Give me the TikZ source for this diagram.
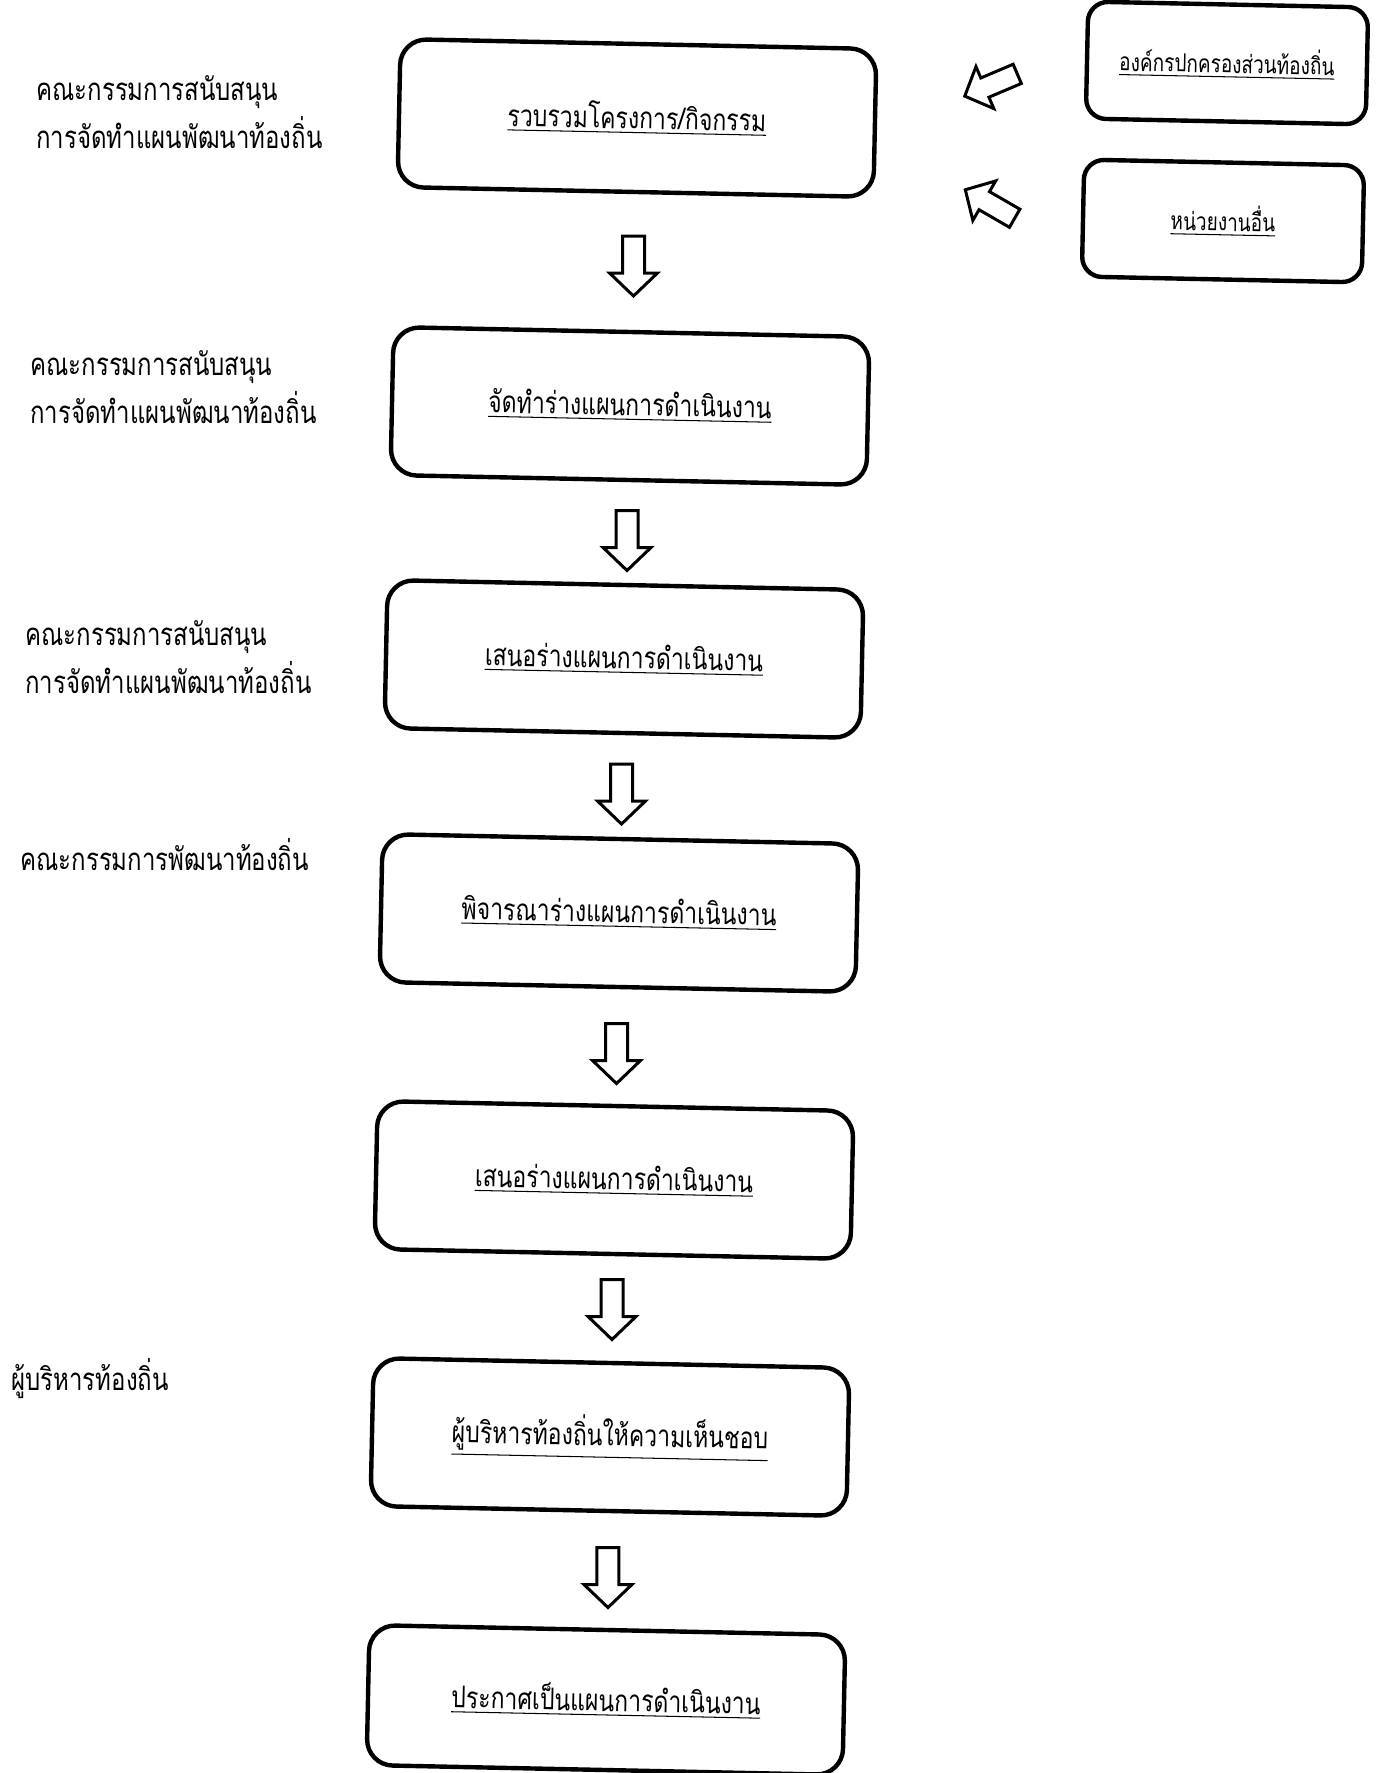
\documentclass[tikz,border=0pt]{standalone}
\usepackage{fontspec}
\usepackage{graphicx}
\newfontfamily\thaifont[Script=Thai]{Loma}
\usetikzlibrary{calc}
\newcommand\tall[1]{\scalebox{1}[1.3]{#1}}
\newcommand\ulthai[1]{\tall{\underline{#1}}}
\begin{document}
\begin{tikzpicture}[x=0.5pt,y=-0.5pt,
  box/.style={draw, line width=2.2pt, rounded corners=13pt, rotate=-1.2, minimum width=238pt, minimum height=74pt, inner sep=0pt, font=\thaifont\fontsize{11.5}{14}\selectfont},
  sidebox/.style={draw, line width=2.2pt, rounded corners=10pt, rotate=-1.2, minimum width=140pt, minimum height=58.5pt, inner sep=0pt, font=\thaifont\fontsize{9.5}{12}\selectfont},
  lab/.style={anchor=west, align=left, inner sep=0pt, font=\thaifont\fontsize{12}{24}\selectfont},
  arrowline/.style={draw, line width=1.5pt, fill=white, line join=miter},
  pics/hollowarrow/.style={code={\draw[arrowline] (-11,-30) -- (-11,7) -- (-24,7) -- (0,30) -- (24,7) -- (11,7) -- (11,-30) -- cycle;}}
]
\useasboundingbox (0,0) rectangle (1377,1773);
\fill[white] (0,0) rectangle (1377,1773);

% main boxes
\node[box] (b1) at (637,118) {\ulthai{รวบรวมโครงการ/กิจกรรม}};
\node[box] (b2) at (630,406) {\ulthai{จัดทำร่างแผนการดำเนินงาน}};
\node[box] (b3) at (624,659) {\ulthai{เสนอร่างแผนการดำเนินงาน}};
\node[box] (b4) at (619,913) {\ulthai{พิจารณาร่างแผนการดำเนินงาน}};
\node[box] (b5) at (614,1180) {\ulthai{เสนอร่างแผนการดำเนินงาน}};
\node[box] (b6) at (610,1437) {\ulthai{ผู้บริหารท้องถิ่นให้ความเห็นชอบ}};
\node[box, minimum height=70pt] (b7) at (606,1700) {\ulthai{ประกาศเป็นแผนการดำเนินงาน}};

% side boxes
\node[sidebox] (sa) at (1227,63) {\ulthai{องค์กรปกครองส่วนท้องถิ่น}};
\node[sidebox] (sb) at (1223,221) {\ulthai{หน่วยงานอื่น}};

% left labels
\node[lab] (l1) at (36,112) {\tall{คณะกรรมการสนับสนุน}\\\tall{การจัดทำแผนพัฒนาท้องถิ่น}};
\node[lab] (l2) at (30,387) {\tall{คณะกรรมการสนับสนุน}\\\tall{การจัดทำแผนพัฒนาท้องถิ่น}};
\node[lab] (l3) at (25,657) {\tall{คณะกรรมการสนับสนุน}\\\tall{การจัดทำแผนพัฒนาท้องถิ่น}};
\node[lab] (l4) at (20,855) {\tall{คณะกรรมการพัฒนาท้องถิ่น}};
\node[lab] (l5) at (11,1379) {\tall{ผู้บริหารท้องถิ่น}};

% block arrows between boxes
\pic at ($(b1.south)!0.5!(b2.north)+(0,4)$) {hollowarrow};
\pic at ($(b2.south)!0.5!(b3.north)+(0,8)$) {hollowarrow};
\pic at ($(b3.south)!0.5!(b4.north)+(0,8)$) {hollowarrow};
\pic at ($(b4.south)!0.5!(b5.north)+(0,7)$) {hollowarrow};
\pic at ($(b5.south)!0.5!(b6.north)+(0,1)$) {hollowarrow};
\pic at ($(b6.south)!0.5!(b7.north)+(0,7)$) {hollowarrow};

% diagonal block arrows from side boxes
\pic[rotate=-67, scale=0.95] at (991,85) {hollowarrow};
\pic[rotate=-120, scale=0.95] at (990,204) {hollowarrow};
\end{tikzpicture}
\end{document}
